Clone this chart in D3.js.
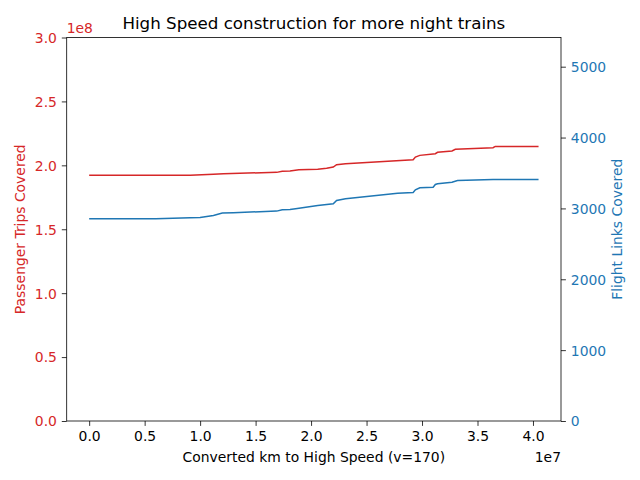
<!DOCTYPE html>
<html>
<head>
<meta charset="utf-8">
<script src="https://cdn.jsdelivr.net/npm/d3@7"></script>
<style>
  body { margin: 0; background: #fff; }
  text { font-family: "DejaVu Sans", sans-serif; }
</style>
</head>
<body>
<svg width="640" height="480"></svg>
<script>
// km converted (x, in 1e7) vs passenger trips (in 1e8)
const kmTrips = [0, 0.91, 1.12, 1.21, 1.69, 1.74, 1.81, 1.89, 2.06, 2.14, 2.20, 2.23, 2.31, 2.92, 2.94, 2.98, 3.12, 3.14, 3.27, 3.30, 3.64, 3.66, 4.05]
const trips = [1.922, 1.922, 1.930, 1.935, 1.945, 1.953, 1.955, 1.965, 1.969, 1.978, 1.987, 2.005, 2.013, 2.044, 2.065, 2.078, 2.091, 2.102, 2.112, 2.125, 2.138, 2.148, 2.148]

// km converted (x, in 1e7) vs flight links
const kmLinks = [0, 0.60, 0.91, 1.00, 1.12, 1.20, 1.30, 1.69, 1.74, 1.81, 1.86, 2.06, 2.20, 2.23, 2.31, 2.78, 2.92, 2.94, 2.98, 3.10, 3.12, 3.14, 3.27, 3.32, 3.64, 4.05]
const links = [2855, 2855, 2869, 2873, 2901, 2934, 2940, 2962, 2982, 2986, 2996, 3042, 3066, 3113, 3137, 3215, 3225, 3263, 3292, 3300, 3338, 3348, 3370, 3394, 3408, 3408]

const xTicks = [0, 0.5, 1.0, 1.5, 2.0, 2.5, 3.0, 3.5, 4.0]
const leftTicks = [0, 0.5, 1.0, 1.5, 2.0, 2.5, 3.0]
const rightTicks = [0, 1000, 2000, 3000, 4000, 5000]

const red = "#d62728", blue = "#1f77b4"
const pLeft = 66.7, pRight = 561, pTop = 37.5, pBottom = 421

const svg = d3.select("svg")

const x = d3.scaleLinear().domain([-0.2025, 4.2525]).range([pLeft, pRight])
const yL = d3.scaleLinear().domain([0, 3.0]).range([pBottom, pTop])
const yR = d3.scaleLinear().domain([0, 5412]).range([pBottom, pTop])

const lineTrips = d3.line().x((d, i) => x(kmTrips[i])).y(d => yL(d))
const lineLinks = d3.line().x((d, i) => x(kmLinks[i])).y(d => yR(d))

svg.append("path").attr("d", lineTrips(trips))
  .attr("fill", "none").attr("stroke", red).attr("stroke-width", 1.5)
svg.append("path").attr("d", lineLinks(links))
  .attr("fill", "none").attr("stroke", blue).attr("stroke-width", 1.5)

function styleAxis(g, color) {
  g.select(".domain").remove()
  g.selectAll(".tick line").attr("stroke", "#000").attr("stroke-width", 0.8)
  g.selectAll(".tick text").attr("fill", color).style("font-size", "13.9px")
    .style("font-family", "DejaVu Sans")
}

const gx = svg.append("g").attr("transform", `translate(0,${pBottom})`)
  .call(d3.axisBottom(x).tickValues(xTicks).tickFormat(d3.format(".1f")).tickSize(4.9).tickPadding(4.9))
styleAxis(gx, "#000")

const gl = svg.append("g").attr("transform", `translate(${pLeft},0)`)
  .call(d3.axisLeft(yL).tickValues(leftTicks).tickFormat(d3.format(".1f")).tickSize(4.9).tickPadding(4.9))
styleAxis(gl, red)
gl.selectAll(".tick text").attr("dy", "0.35em")

const gr = svg.append("g").attr("transform", `translate(${pRight},0)`)
  .call(d3.axisRight(yR).tickValues(rightTicks).tickFormat(d3.format("d")).tickSize(4.9).tickPadding(4.9))
styleAxis(gr, blue)
gr.selectAll(".tick text").attr("dy", "0.35em")

// frame
svg.append("rect").attr("x", pLeft).attr("y", pTop).attr("width", pRight - pLeft).attr("height", pBottom - pTop)
  .attr("fill", "none").attr("stroke", "#000").attr("stroke-width", 0.8)

// title and labels
svg.append("text").attr("x", (pLeft + pRight) / 2).attr("y", 29).attr("text-anchor", "middle")
  .style("font-size", "16.7px").text("High Speed construction for more night trains")
svg.append("text").attr("x", (pLeft + pRight) / 2).attr("y", 462).attr("text-anchor", "middle")
  .style("font-size", "13.9px").text("Converted km to High Speed (v=170)")
svg.append("text").attr("x", pRight).attr("y", 462).attr("text-anchor", "end")
  .style("font-size", "13.9px").text("1e7")
svg.append("text").attr("x", pLeft).attr("y", 33).attr("fill", red)
  .style("font-size", "13.9px").text("1e8")
svg.append("text").attr("transform", `translate(25,${(pTop + pBottom) / 2}) rotate(-90)`)
  .attr("text-anchor", "middle").attr("fill", red)
  .style("font-size", "13.9px").text("Passenger Trips Covered")
svg.append("text").attr("transform", `translate(622,${(pTop + pBottom) / 2}) rotate(-90)`)
  .attr("text-anchor", "middle").attr("fill", blue)
  .style("font-size", "13.9px").text("Flight Links Covered")
</script>
</body>
</html>
